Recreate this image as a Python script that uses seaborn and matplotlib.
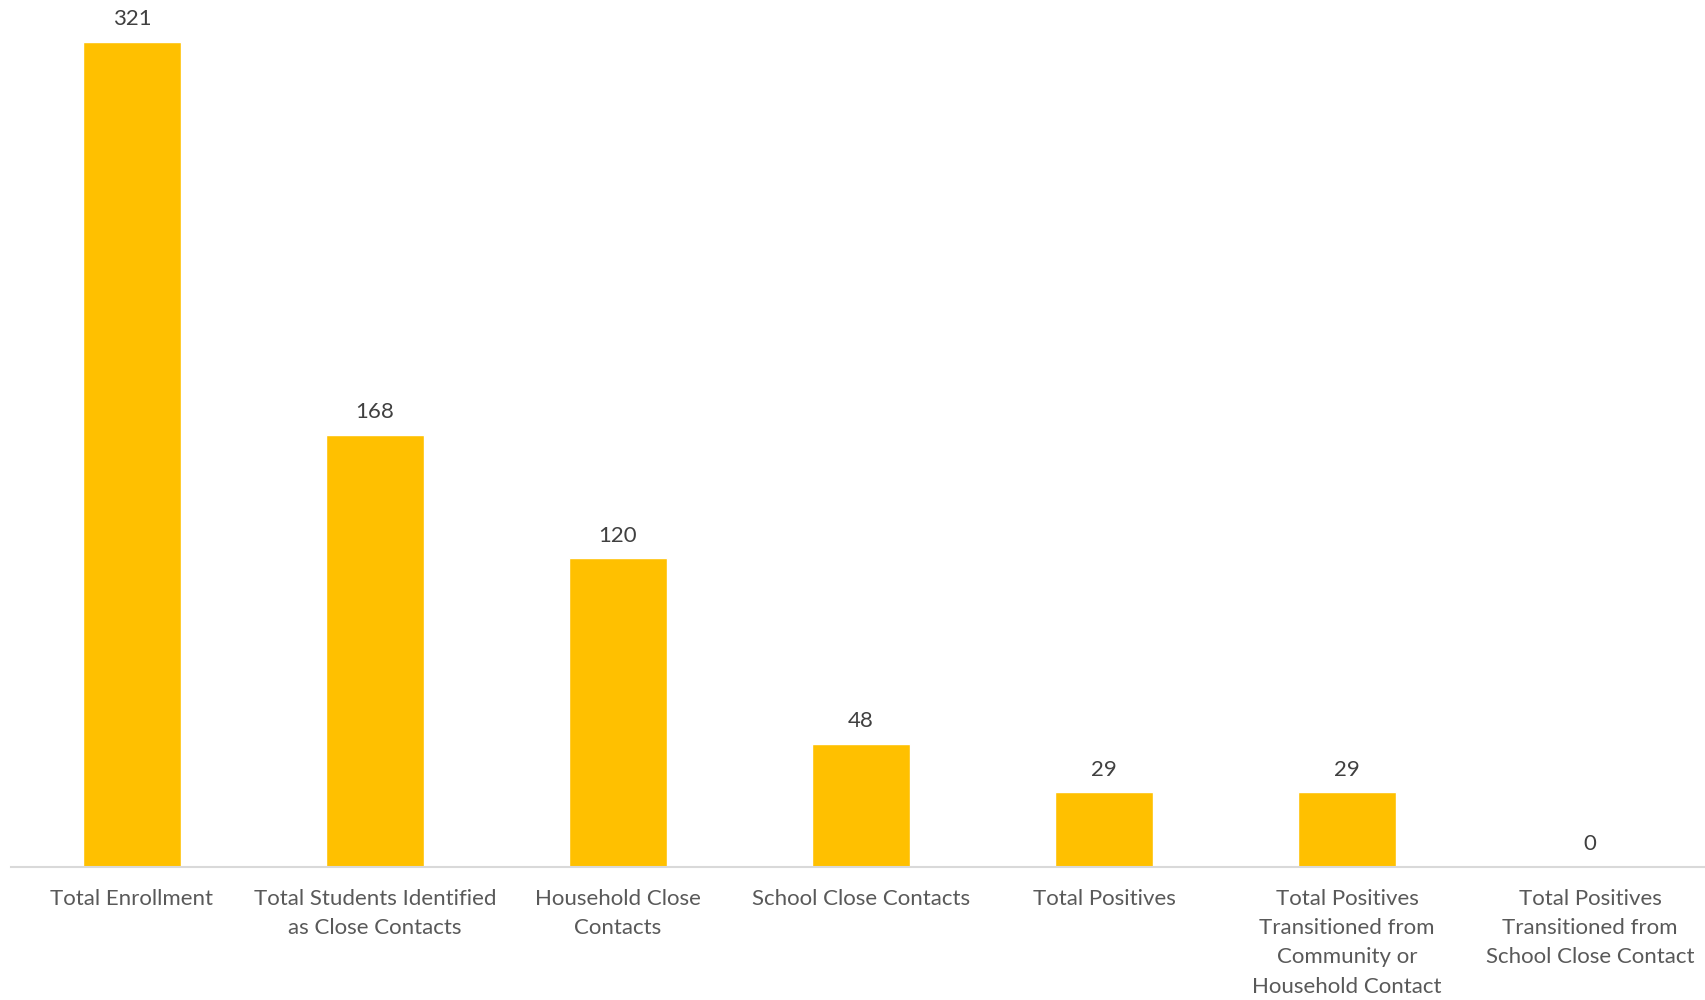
import matplotlib
matplotlib.use("Agg")
import matplotlib.pyplot as plt
import seaborn as sns
import pandas as pd

categories = [
    "Total Enrollment",
    "Total Students Identified\nas Close Contacts",
    "Household Close\nContacts",
    "School Close Contacts",
    "Total Positives",
    "Total Positives\nTransitioned from\nCommunity or\nHousehold Contact",
    "Total Positives\nTransitioned from\nSchool Close Contact",
]
values = [321, 168, 120, 48, 29, 29, 0]

sns.set_theme(style="white")
plt.rcParams["font.family"] = ["Lato", "DejaVu Sans"]

df = pd.DataFrame({"cat": categories, "val": values})

fig = plt.figure(figsize=(17.06, 10), dpi=100)
ax = fig.add_axes([10.5 / 1706, 133 / 1000, 1701 / 1706, 0.846])
sns.barplot(data=df, x="cat", y="val", color="#FFC000", width=0.4,
            saturation=1, ax=ax)
ax.set_xlim(-0.5, 6.5)
ax.set_ylim(0, 329)
ax.set_xlabel("")
ax.set_ylabel("")
ax.set_yticks([])
for s in ["top", "right", "left"]:
    ax.spines[s].set_visible(False)
ax.spines["bottom"].set_color("#D9D9D9")
ax.spines["bottom"].set_linewidth(1.5)
ax.tick_params(axis="x", length=0, pad=16, labelsize=16, colors="#595959")
for lab in ax.get_xticklabels():
    lab.set_linespacing(1.57)
    lab.set_verticalalignment("top")

for i, v in enumerate(values):
    ax.annotate(str(v), (i, v), xytext=(0, 9), textcoords="offset points",
                ha="center", va="bottom", fontsize=16, color="#404040")

fig.savefig("out.png", dpi=100)
